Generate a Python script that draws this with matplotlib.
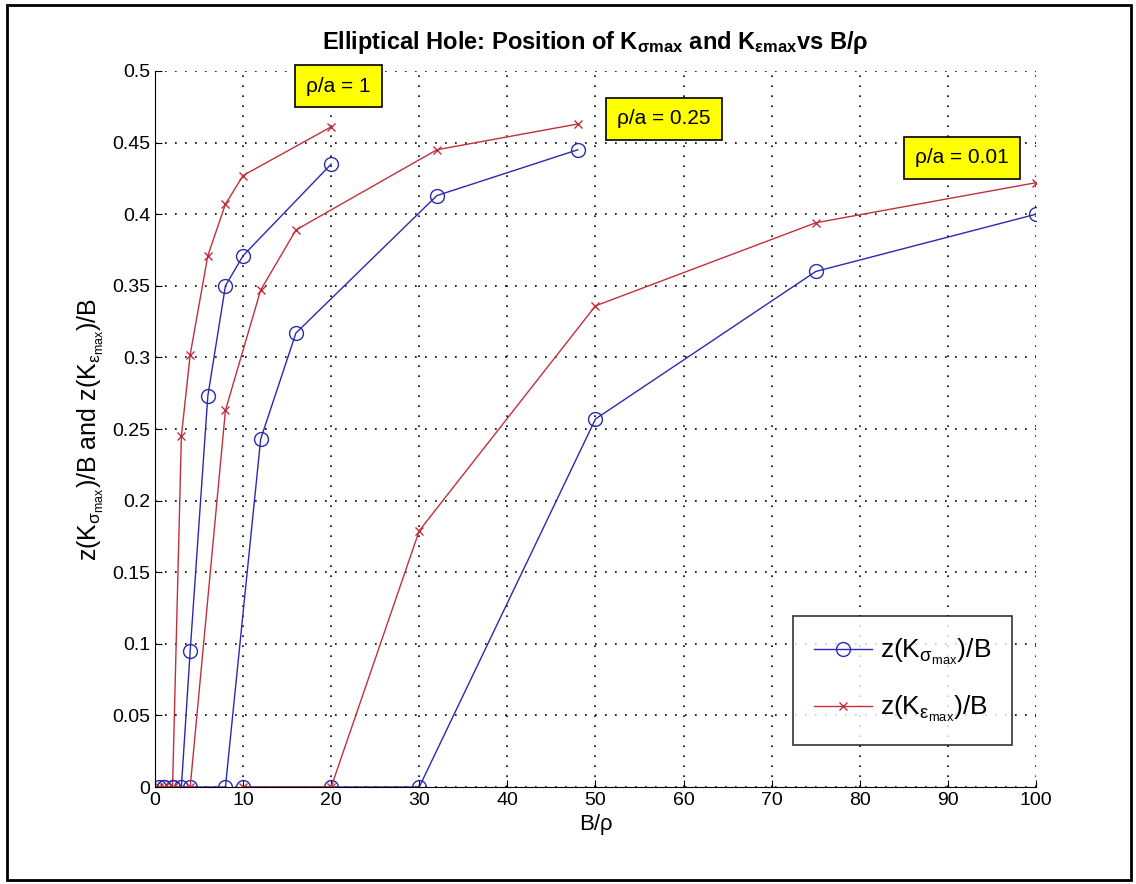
import numpy as np
import matplotlib
matplotlib.use('Agg')
import matplotlib.pyplot as plt
from matplotlib.patches import Rectangle

plt.rcParams['font.family'] = ['Liberation Sans', 'DejaVu Sans']
plt.rcParams['mathtext.fontset'] = 'custom'
plt.rcParams['mathtext.rm'] = 'Liberation Sans'
plt.rcParams['mathtext.it'] = 'Liberation Sans'
plt.rcParams['mathtext.default'] = 'regular'

# rho/a = 1
x_r1 = [0.5, 1, 2, 3, 4, 6, 8, 10, 20]
sig_r1 = [0, 0, 0, 0, 0.095, 0.273, 0.35, 0.371, 0.435]
eps_r1 = [0, 0, 0, 0.245, 0.302, 0.371, 0.407, 0.427, 0.461]

# rho/a = 0.25
x_r025 = [1, 2, 4, 8, 12, 16, 32, 48]
sig_r025 = [0, 0, 0, 0, 0.243, 0.317, 0.413, 0.445]
eps_r025 = [0, 0, 0, 0.263, 0.347, 0.389, 0.445, 0.463]

# rho/a = 0.01
x_r001 = [10, 20, 30, 50, 75, 100]
sig_r001 = [0, 0, 0, 0.257, 0.36, 0.4]
eps_r001 = [0, 0, 0.179, 0.336, 0.394, 0.422]

labels = ['ρ/a = 1', 'ρ/a = 0.25', 'ρ/a = 0.01']
label_pos = [(20.8, 0.4895), (57.8, 0.4665), (91.6, 0.4395)]

blue = '#2a2ab0'
red = '#c0303c'

fig = plt.figure(figsize=(11.36, 8.84), dpi=100)
ax = fig.add_axes([0.1364, 0.1097, 0.7756, 0.81])

groups = [(x_r1, sig_r1, eps_r1), (x_r025, sig_r025, eps_r025), (x_r001, sig_r001, eps_r001)]
for i, (xx, s, e) in enumerate(groups):
    ax.plot(xx, s, '-o', color=blue, mfc='none', ms=10, lw=1,
            label=r'z(K$_{\sigma_{max}}$)/B' if i == 0 else None)
    ax.plot(xx, e, '-x', color=red, ms=6, lw=1,
            label=r'z(K$_{\varepsilon_{max}}$)/B' if i == 0 else None)

for lab, (lx, ly) in zip(labels, label_pos):
    ax.text(lx, ly, lab, fontsize=15, ha='center', va='center',
            bbox=dict(boxstyle='square,pad=0.55', fc='yellow', ec='black', lw=1.2))

ax.set_xlim(0, 100)
ax.set_ylim(0, 0.5)
ax.set_xticks(np.arange(0, 101, 10))
ax.set_yticks(np.arange(0, 0.501, 0.05))
ax.set_yticklabels(['0', '0.05', '0.1', '0.15', '0.2', '0.25', '0.3', '0.35', '0.4', '0.45', '0.5'])
ax.grid(True, linestyle=(0, (1, 5)), color='black', lw=1.2)
ax.tick_params(direction='in', labelsize=14, length=5)
ax.spines['top'].set_visible(False)
ax.spines['right'].set_visible(False)

ax.set_xlabel('B/ρ', fontsize=16)
ax.set_ylabel(r'z(K$_{\sigma_{max}}$)/B and z(K$_{\varepsilon_{max}}$)/B', fontsize=18)
ax.set_title(r'Elliptical Hole: Position of K$_{\sigma max}$ and K$_{\varepsilon max}$vs B/ρ',
             fontsize=17, fontweight='bold', pad=16)

leg = ax.legend(loc='lower right', fontsize=19, fancybox=False, edgecolor='black',
                borderpad=0.8, handlelength=2.2, handletextpad=0.3, labelspacing=1.0,
                borderaxespad=0, bbox_to_anchor=(0.973, 0.0587))
leg.get_frame().set_linewidth(1.2)

fig.patches.append(Rectangle((0.006, 0.004), 0.99, 0.99, transform=fig.transFigure,
                             fill=False, ec='black', lw=2))

fig.savefig('out.png', dpi=100)
